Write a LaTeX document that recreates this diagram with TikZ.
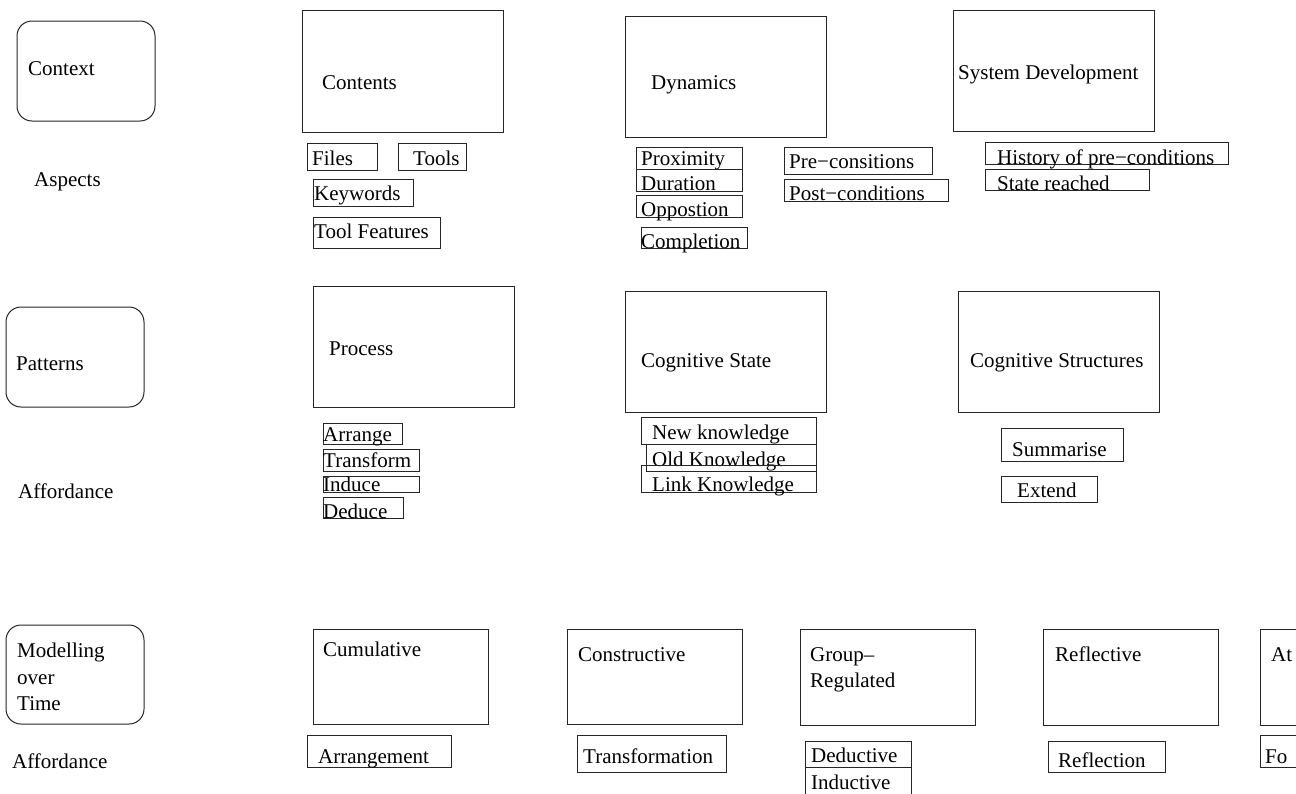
\documentclass[tikz,border=0pt]{standalone}
\usepackage{fontspec}
\setmainfont{Liberation Serif}
\usetikzlibrary{fit}
\newcommand\bx[6]{\node[#1, fit={(#3,#4) (#5,#6)}] (#2) {};}
\newcommand\tx[4]{\node[lbl] (#1) at (#2,#3) {#4};}
\begin{document}
\begin{tikzpicture}[x=1pt,y=-1pt,
  box/.style={draw=black!85, line width=1pt, inner sep=0pt},
  rbox/.style={box, rounded corners=15pt},
  lbl/.style={anchor=base west, inner sep=0pt, font=\fontsize{21}{26.5}\selectfont},
]
\useasboundingbox (0,0) rectangle (1296,793);
\clip (0,0) rectangle (1296,793);
% left column
\bx{rbox}{context}{17}{21}{155}{121}
\tx{contextT}{28}{75}{Context}
\tx{aspects}{34}{186}{Aspects}
\bx{rbox}{patterns}{6}{307}{144}{407}
\tx{patternsT}{16}{370}{Patterns}
\tx{aff1}{18}{498}{Affordance}
\bx{rbox}{modelling}{6}{625}{144}{724}
\tx{modT1}{17}{657}{Modelling}
\tx{modT2}{17}{684}{over}
\tx{modT3}{17}{710}{Time}
\tx{aff2}{12}{768}{Affordance}
% top row
\bx{box}{contents}{302}{10}{503}{132}
\tx{contentsT}{322}{89}{Contents}
\bx{box}{dynamics}{625}{16}{826}{137}
\tx{dynamicsT}{651}{89}{Dynamics}
\bx{box}{sysdev}{953}{10}{1154}{131}
\tx{sysdevT}{958}{79}{System Development}
% contents subs
\bx{box}{files}{307}{143}{377}{170}
\tx{filesT}{312}{165}{Files}
\bx{box}{tools}{398}{143}{466}{170}
\tx{toolsT}{413}{165}{Tools}
\bx{box}{keywords}{313}{179}{413}{206}
\tx{keywordsT}{314}{200}{Keywords}
\bx{box}{toolfeat}{313}{217}{440}{248}
\tx{toolfeatT}{314}{238}{Tool Features}
% dynamics subs
\bx{box}{proximity}{636}{147}{742}{169}
\tx{proximityT}{641}{165}{Proximity}
\bx{box}{duration}{636}{169}{742}{191}
\tx{durationT}{641}{190}{Duration}
\bx{box}{oppostion}{636}{195}{742}{217}
\tx{oppostionT}{641}{216}{Oppostion}
\bx{box}{completion}{641}{227}{747}{248}
\tx{completionT}{641}{248}{Completion}
\bx{box}{precond}{784}{147}{932}{174}
\tx{precondT}{789}{168}{Pre−consitions}
\bx{box}{postcond}{784}{179}{948}{201}
\tx{postcondT}{789}{200}{Post−conditions}
% system development subs
\bx{box}{history}{985}{142}{1228}{164}
\tx{historyT}{997}{164}{History of pre−conditions}
\bx{box}{statereached}{985}{169}{1149}{190}
\tx{statereachedT}{997}{190}{State reached}
% middle row
\bx{box}{process}{313}{286}{514}{407}
\tx{processT}{329}{355}{Process}
\bx{box}{cogstate}{625}{291}{826}{412}
\tx{cogstateT}{641}{367}{Cognitive State}
\bx{box}{cogstruct}{958}{291}{1159}{412}
\tx{cogstructT}{970}{367}{Cognitive Structures}
% process subs
\bx{box}{arrange}{323}{423}{402}{444}
\tx{arrangeT}{323}{441}{Arrange}
\bx{box}{transform}{323}{449}{419}{471}
\tx{transformT}{323}{467}{Transform}
\bx{box}{induce}{323}{476}{419}{492}
\tx{induceT}{323}{491}{Induce}
\bx{box}{deduce}{323}{497}{403}{518}
\tx{deduceT}{323}{518}{Deduce}
% cognitive state subs
\bx{box}{newk}{641}{417}{816}{444}
\tx{newkT}{652}{439}{New knowledge}
\bx{box}{oldk}{646}{444}{816}{471}
\tx{oldkT}{652}{466}{Old Knowledge}
\bx{box}{linkk}{641}{465}{816}{492}
\tx{linkkT}{652}{491}{Link Knowledge}
% cognitive structures subs
\bx{box}{summarise}{1001}{428}{1123}{461}
\tx{summariseT}{1012}{456}{Summarise}
\bx{box}{extend}{1001}{476}{1097}{502}
\tx{extendT}{1017}{497}{Extend}
% bottom row
\bx{box}{cumulative}{313}{629}{488}{724}
\tx{cumulativeT}{323}{656}{Cumulative}
\bx{box}{constructive}{567}{629}{742}{724}
\tx{constructiveT}{578}{661}{Constructive}
\bx{box}{group}{800}{629}{975}{725}
\tx{groupT1}{810}{661}{Group–}
\tx{groupT2}{810}{687}{Regulated}
\bx{box}{reflective}{1043}{629}{1218}{725}
\tx{reflectiveT}{1055}{661}{Reflective}
\bx{box}{at}{1260}{629}{1340}{725}
\tx{atT}{1271}{661}{At}
% bottom subs
\bx{box}{arrangement}{307}{735}{451}{767}
\tx{arrangementT}{318}{763}{Arrangement}
\bx{box}{transformation}{577}{735}{726}{772}
\tx{transformationT}{583}{763}{Transformation}
\bx{box}{deductive}{805}{741}{911}{767}
\tx{deductiveT}{811}{762}{Deductive}
\bx{box}{inductive}{805}{767}{911}{810}
\tx{inductiveT}{811}{789}{Inductive}
\bx{box}{reflection}{1048}{741}{1165}{772}
\tx{reflectionT}{1058}{767}{Reflection}
\bx{box}{fo}{1260}{735}{1340}{767}
\tx{foT}{1265}{763}{Fo}
\end{tikzpicture}
\end{document}
